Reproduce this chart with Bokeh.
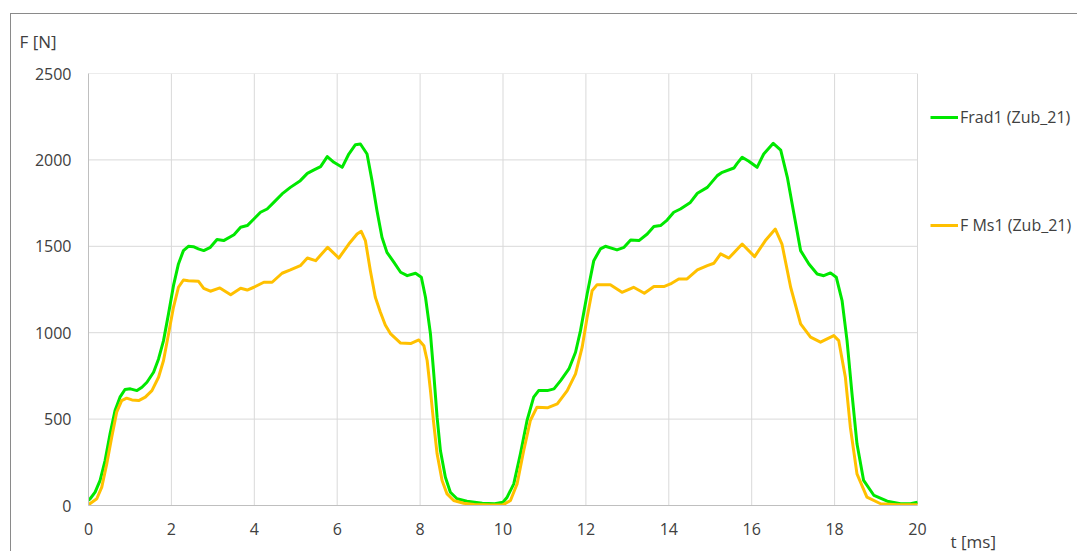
from bokeh.plotting import figure
from bokeh.models import Range1d, Legend, LegendItem, Title, FixedTicker
from bokeh.embed import file_html
from bokeh.resources import INLINE

# ---- data ----
t_frad = [0, 0.04, 0.16, 0.28, 0.40, 0.52, 0.64, 0.76, 0.88, 1.01,
          1.17, 1.29, 1.41, 1.57, 1.69, 1.81, 1.93, 2.05, 2.17, 2.29,
          2.41, 2.53, 2.65, 2.78, 2.94, 3.10, 3.26, 3.51, 3.67, 3.83,
          3.99, 4.15, 4.31, 4.47, 4.67, 4.87, 5.11, 5.28, 5.44, 5.60,
          5.76, 5.92, 6.12, 6.28, 6.44, 6.56, 6.72, 6.84, 6.96, 7.08,
          7.20, 7.37, 7.53, 7.69, 7.89, 8.03, 8.13, 8.25, 8.33, 8.41,
          8.49, 8.61, 8.73, 8.89, 9.13, 9.5, 9.8,
          10.0, 10.10, 10.26, 10.42, 10.58, 10.74, 10.86, 11.07, 11.23, 11.39,
          11.59, 11.75, 11.87, 12.03, 12.19, 12.35, 12.47, 12.75, 12.92, 13.08,
          13.28, 13.48, 13.64, 13.80, 13.96, 14.12, 14.28, 14.52, 14.69, 14.93,
          15.17, 15.29, 15.57, 15.65, 15.77, 15.93, 16.13, 16.29, 16.52, 16.70,
          16.86, 17.02, 17.18, 17.38, 17.58, 17.74, 17.90, 18.04, 18.18, 18.30,
          18.42, 18.54, 18.70, 18.95, 19.27, 19.59, 19.83, 20.0]
f_frad = [30, 39, 77, 145, 260, 415, 549, 627, 671, 675,
          665, 684, 713, 771, 848, 954, 1109, 1272, 1398, 1475,
          1500, 1498, 1485, 1475, 1494, 1539, 1533, 1567, 1610, 1620,
          1658, 1697, 1716, 1754, 1803, 1841, 1880, 1922, 1942, 1961,
          2019, 1986, 1957, 2034, 2088, 2092, 2034, 1880, 1706, 1552,
          1465, 1407, 1350, 1330, 1344, 1321, 1205, 993, 762, 511,
          318, 164, 77, 39, 25, 13, 10,
          19, 48, 125, 299, 492, 627, 665, 665, 675, 723,
          790, 887, 1012, 1224, 1417, 1485, 1500, 1479, 1494, 1537,
          1533, 1571, 1614, 1620, 1652, 1697, 1716, 1754, 1807, 1841,
          1909, 1928, 1953, 1980, 2015, 1992, 1957, 2034, 2096, 2057,
          1899, 1687, 1475, 1398, 1340, 1330, 1346, 1321, 1186, 954,
          646, 357, 145, 58, 25, 10, 10, 19]

t_fms = [0, 0.04, 0.20, 0.32, 0.44, 0.56, 0.68, 0.80, 0.92, 1.05,
         1.21, 1.37, 1.53, 1.69, 1.81, 1.93, 2.05, 2.17, 2.29, 2.41,
         2.65, 2.78, 2.94, 3.17, 3.43, 3.67, 3.83, 3.99, 4.23, 4.43,
         4.67, 4.87, 5.11, 5.28, 5.48, 5.77, 6.04, 6.28, 6.48, 6.58,
         6.68, 6.80, 6.92, 7.04, 7.16, 7.29, 7.53, 7.77, 7.97, 8.09,
         8.17, 8.25, 8.33, 8.41, 8.53, 8.65, 8.81, 9.05, 9.3, 9.7,
         10.0, 10.18, 10.34, 10.50, 10.66, 10.82, 11.07, 11.31, 11.55, 11.75,
         11.91, 12.03, 12.15, 12.27, 12.59, 12.87, 13.15, 13.41, 13.64, 13.88,
         14.04, 14.24, 14.44, 14.69, 14.93, 15.09, 15.25, 15.45, 15.77, 16.07,
         16.33, 16.57, 16.73, 16.94, 17.18, 17.42, 17.66, 17.98, 18.10, 18.26,
         18.38, 18.54, 18.78, 19.11, 19.5, 20.0]
f_fms = [10, 12, 39, 106, 241, 395, 540, 607, 621, 611,
         607, 627, 665, 742, 839, 993, 1147, 1263, 1305, 1301,
         1298, 1257, 1240, 1259, 1220, 1257, 1247, 1263, 1292, 1292,
         1344, 1363, 1388, 1432, 1417, 1494, 1432, 1513, 1571, 1587,
         1533, 1359, 1205, 1120, 1045, 993, 940, 937, 958, 925,
         839, 665, 472, 299, 145, 67, 29, 13, 6, 3,
         4, 29, 125, 318, 492, 569, 565, 588, 665, 762,
         916, 1089, 1243, 1278, 1278, 1234, 1263, 1228, 1267, 1267,
         1282, 1311, 1311, 1363, 1388, 1402, 1456, 1432, 1513, 1440,
         1533, 1600, 1513, 1263, 1051, 974, 945, 983, 954, 742,
         453, 183, 48, 10, 4, 4]

series_names = ["Frad1 (Zub_21)", "F Ms1 (Zub_21)"]
x_ticks = [0, 2, 4, 6, 8, 10, 12, 14, 16, 18, 20]
y_ticks = [0, 500, 1000, 1500, 2000, 2500]
x_title = "t [ms]"
y_title = "F [N]"

FONT = "Open Sans"
TXT = "#404040"
GRID = "#d9d9d9"
EDGE = "#8a8a8a"

# plot frame spans to the right edge so the legend (drawn in the frame) is not clipped;
# data area 0..20 ms occupies 829 px of the 989 px wide frame
X_END = 20 * 989 / 829

p = figure(width=1067, height=546, output_backend="svg", toolbar_location=None,
           x_range=Range1d(0, X_END), y_range=Range1d(0, 2500),
           min_border_left=78, min_border_right=0, min_border_top=68, min_border_bottom=46)
p.margin = (5, 0, 0, 10)
# chart-area edge lines (top and left), painted behind the transparent border area
p.styles = {"background": (f"linear-gradient({EDGE}, {EDGE}) 0 8px / 100% 1px no-repeat, "
                           f"linear-gradient({EDGE}, {EDGE}) 0 8px / 1px 100% no-repeat, #ffffff")}
p.outline_line_color = None
p.background_fill_color = "white"
p.border_fill_alpha = 0

for ax in (p.xaxis[0], p.yaxis[0]):
    ax.axis_line_color = "#bfbfbf"
    ax.axis_line_width = 1
    ax.major_tick_line_color = None
    ax.minor_tick_line_color = None
    ax.major_tick_out = 0
    ax.major_tick_in = 0
    ax.minor_tick_out = 0
    ax.major_label_text_font = FONT
    ax.major_label_text_font_size = "16px"
    ax.major_label_text_color = TXT
p.xaxis[0].ticker = FixedTicker(ticks=x_ticks)
p.xaxis[0].bounds = (x_ticks[0], x_ticks[-1])
p.yaxis[0].ticker = FixedTicker(ticks=y_ticks)
p.yaxis[0].major_label_standoff = 17
p.xaxis[0].major_label_standoff = 17

# grid lines limited to the data area
p.xgrid.visible = False
p.ygrid.visible = False
p.segment(x0=x_ticks, x1=x_ticks, y0=[y_ticks[0]] * len(x_ticks), y1=[y_ticks[-1]] * len(x_ticks),
          line_color=GRID, line_width=1)
p.segment(x0=[x_ticks[0]] * len(y_ticks), x1=[x_ticks[-1]] * len(y_ticks), y0=y_ticks, y1=y_ticks,
          line_color=GRID, line_width=1)

r1 = p.line(t_frad, f_frad, line_color="#00e800", line_width=3, line_join="round")
r2 = p.line(t_fms, f_fms, line_color="#ffc000", line_width=3, line_join="round")

legend = Legend(items=[LegendItem(label=series_names[0], renderers=[r1]),
                       LegendItem(label=series_names[1], renderers=[r2])],
                location=(842, 269), orientation="vertical",
                glyph_width=28, glyph_height=20, label_height=20, label_standoff=2,
                spacing=86, padding=0, margin=0,
                border_line_color=None, background_fill_alpha=0,
                label_text_font=FONT, label_text_font_size="16px", label_text_color=TXT)
p.add_layout(legend, "center")

p.title = Title(text=y_title, align="left", offset=-69, standoff=41,
                text_font=FONT, text_font_size="17px", text_color=TXT, text_font_style="normal")
p.add_layout(Title(text=x_title, align="left", offset=862, standoff=-30,
                   text_font=FONT, text_font_size="17px", text_color=TXT, text_font_style="normal"),
             "below")

open("out.html", "w").write(file_html(p, INLINE))
